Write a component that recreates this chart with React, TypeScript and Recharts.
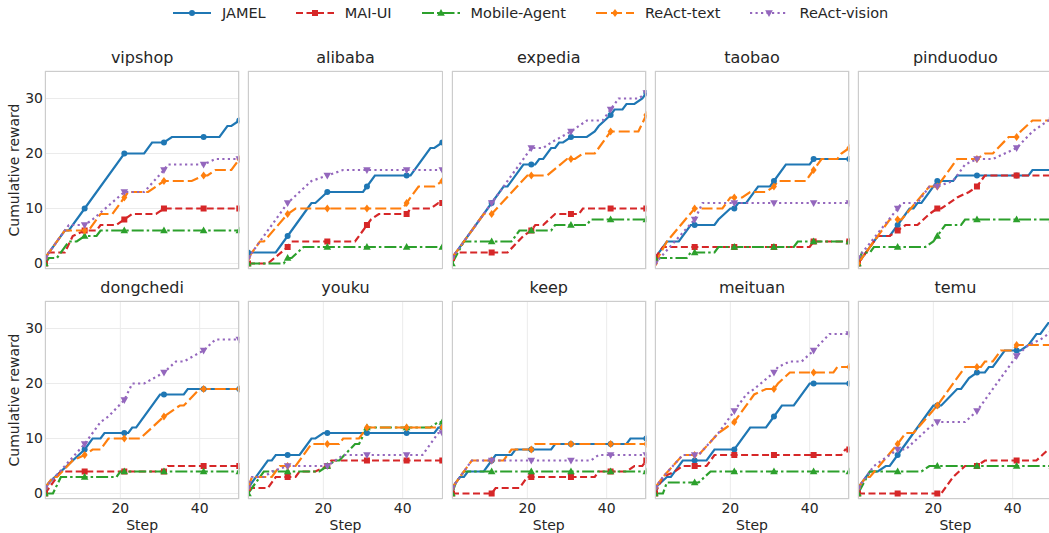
import React from 'react';
import { LineChart, Line, XAxis, YAxis, CartesianGrid } from 'recharts';

type Pts = [number, number][];

// ---------- labels ----------
const apps = ['vipshop', 'alibaba', 'expedia', 'taobao', 'pinduoduo', 'dongchedi', 'youku', 'keep', 'meituan', 'temu'];
const seriesNames = ['JAMEL', 'MAI-UI', 'Mobile-Agent', 'ReAct-text', 'ReAct-vision'];
const markerSteps = [1, 11, 21, 31, 41, 50];
const yTicks = [0, 10, 20, 30];
const xTicks = [20, 40];
const yDomain = [-1, 35];
const xDomain = [1, 50];

// ---------- data: [step, cumulative reward] vertices, order = seriesNames ----------
const vipshop: Pts[] = [
  [[1,1],[6,6],[7,6],[11,10],[21,20],[26,20],[28,22],[31,22],[33,23],[41,23],[45,23],[47,25],[48,25],[50,26]],
  [[1,0],[2,2],[6,2],[8,5],[11,6],[14,6],[15,7],[19,7],[21,8],[23,9],[29,9],[31,10],[41,10],[50,10]],
  [[1,0],[2,1],[4,1],[7,4],[9,4],[11,5],[14,5],[15,6],[21,6],[31,6],[41,6],[50,6]],
  [[1,1],[6,6],[11,6],[12,6],[15,9],[18,9],[21,12],[22,13],[27,13],[29,14],[31,15],[38,15],[41,16],[42,16],[44,17],[48,17],[50,19]],
  [[1,1],[6,6],[7,7],[11,7],[13,8],[21,13],[26,13],[31,17],[32,18],[41,18],[44,19],[50,19]],
];
const alibaba: Pts[] = [
  [[1,2],[8,2],[11,5],[16,10],[17,11],[18,11],[21,13],[30,13],[31,14],[33,16],[41,16],[42,16],[47,21],[48,21],[50,22]],
  [[1,0],[6,0],[11,3],[12,4],[21,4],[28,4],[31,7],[32,8],[34,9],[41,9],[42,10],[47,10],[49,11],[50,11]],
  [[1,0],[10,0],[11,1],[12,1],[15,3],[21,3],[31,3],[41,3],[50,3]],
  [[1,1],[4,4],[5,4],[11,9],[13,10],[21,10],[31,10],[40,10],[41,11],[44,14],[48,14],[50,15]],
  [[1,1],[4,4],[11,11],[17,15],[21,16],[25,17],[31,17],[41,17],[50,17]],
];
const expedia: Pts[] = [
  [[1,1],[11,11],[14,14],[15,14],[19,18],[21,18],[22,18],[23,19],[24,19],[26,21],[27,21],[28,22],[29,22],[31,23],[35,23],[37,24],[38,25],[41,27],[42,28],[44,28],[45,29],[47,29],[49,30],[50,31]],
  [[1,1],[2,2],[11,2],[15,2],[19,5],[21,6],[22,7],[24,7],[27,9],[31,9],[33,9],[34,10],[41,10],[50,10]],
  [[1,0],[4,4],[11,4],[16,4],[18,6],[21,6],[26,6],[27,7],[31,7],[35,7],[36,8],[41,8],[50,8]],
  [[1,1],[9,9],[11,9],[20,16],[21,16],[25,16],[30,19],[31,19],[32,19],[34,20],[37,20],[41,24],[48,24],[50,27]],
  [[1,1],[11,11],[15,15],[21,21],[24,21],[26,22],[31,24],[33,25],[35,26],[39,26],[41,28],[43,30],[48,30],[50,31]],
];
const taobao: Pts[] = [
  [[1,1],[4,4],[7,4],[10,7],[11,7],[16,7],[17,8],[20,10],[21,10],[22,11],[24,11],[27,14],[30,14],[31,15],[34,18],[40,18],[41,19],[50,19]],
  [[1,1],[3,3],[11,3],[21,3],[31,3],[40,3],[41,4],[50,4]],
  [[1,1],[9,1],[10,2],[11,2],[16,2],[17,3],[21,3],[31,3],[36,3],[37,4],[41,4],[50,4]],
  [[1,0],[4,4],[11,10],[18,10],[20,12],[21,12],[23,12],[25,13],[29,13],[31,14],[32,15],[39,15],[40,16],[41,17],[43,19],[47,19],[48,20],[50,21]],
  [[1,0],[11,8],[13,11],[21,11],[31,11],[41,11],[50,11]],
];
const pinduoduo: Pts[] = [
  [[1,0],[6,5],[9,5],[11,7],[14,10],[15,10],[16,11],[17,11],[21,15],[25,15],[26,16],[31,16],[41,16],[44,16],[45,17],[50,17]],
  [[1,0],[6,5],[9,5],[11,6],[13,7],[16,7],[19,9],[21,10],[22,10],[26,12],[29,13],[31,14],[33,16],[41,16],[50,16]],
  [[1,0],[2,2],[4,2],[5,3],[11,3],[18,3],[20,4],[21,5],[23,7],[27,7],[28,8],[31,8],[41,8],[50,8]],
  [[1,0],[9,8],[11,8],[12,8],[19,14],[21,14],[26,19],[31,19],[33,20],[35,20],[39,23],[41,23],[42,24],[45,26],[50,26]],
  [[1,1],[11,10],[12,11],[16,11],[19,14],[21,14],[25,15],[28,18],[31,19],[35,19],[38,20],[41,21],[45,24],[49,26],[50,26]],
];
const dongchedi: Pts[] = [
  [[1,1],[2,2],[11,8],[13,10],[15,10],[16,11],[21,11],[22,11],[23,12],[24,12],[30,18],[31,18],[36,18],[37,19],[41,19],[50,19]],
  [[1,0],[2,1],[5,4],[11,4],[21,4],[31,4],[32,5],[41,5],[50,5]],
  [[1,0],[3,0],[5,3],[11,3],[19,3],[20,4],[21,4],[31,4],[41,4],[50,4]],
  [[1,1],[3,3],[4,3],[8,6],[11,7],[13,8],[15,8],[17,10],[21,10],[25,10],[31,14],[35,16],[36,16],[40,19],[41,19],[50,19]],
  [[1,1],[11,9],[15,13],[17,14],[21,17],[23,20],[26,20],[31,22],[34,24],[36,24],[41,26],[44,28],[50,28]],
];
const youku: Pts[] = [
  [[1,1],[6,6],[7,6],[8,7],[11,7],[14,7],[15,8],[17,10],[18,10],[20,11],[21,11],[31,11],[41,11],[48,11],[49,12],[50,12]],
  [[1,1],[6,1],[8,3],[11,3],[13,3],[14,4],[18,4],[21,5],[22,6],[31,6],[41,6],[50,6]],
  [[1,0],[5,4],[11,4],[19,4],[21,5],[23,6],[24,6],[28,9],[29,9],[31,12],[41,12],[47,12],[49,13],[50,13]],
  [[1,1],[2,3],[7,3],[9,5],[11,5],[13,5],[17,9],[21,9],[24,9],[25,10],[29,10],[31,12],[41,12],[50,12]],
  [[1,1],[2,3],[5,3],[7,4],[11,5],[21,5],[23,6],[25,7],[31,7],[41,7],[45,7],[49,11],[50,11]],
];
const keep: Pts[] = [
  [[1,1],[3,3],[4,3],[5,4],[9,4],[11,6],[12,7],[16,7],[17,8],[21,8],[26,8],[27,9],[31,9],[41,9],[45,9],[46,10],[50,10]],
  [[1,0],[11,0],[12,1],[18,1],[20,3],[21,3],[31,3],[37,3],[38,4],[41,4],[45,4],[47,5],[49,5],[50,6]],
  [[1,0],[2,2],[4,4],[11,4],[21,4],[31,4],[41,4],[50,4]],
  [[1,1],[6,6],[11,6],[14,6],[16,8],[21,8],[22,9],[31,9],[41,9],[50,9]],
  [[1,1],[6,6],[11,6],[21,6],[31,6],[36,6],[38,7],[41,7],[50,7]],
];
const meituan: Pts[] = [
  [[1,1],[4,3],[5,3],[8,6],[11,6],[14,6],[16,8],[21,8],[25,12],[29,12],[31,14],[33,16],[36,16],[40,20],[41,20],[50,20]],
  [[1,0],[3,3],[6,4],[8,5],[11,5],[14,5],[16,7],[21,7],[31,7],[41,7],[48,7],[49,8],[50,8]],
  [[1,0],[3,0],[4,2],[11,2],[12,2],[15,4],[21,4],[31,4],[41,4],[50,4]],
  [[1,1],[3,3],[8,7],[11,7],[12,7],[17,11],[19,12],[21,13],[26,18],[29,19],[31,19],[32,20],[35,22],[41,22],[46,22],[47,23],[50,23]],
  [[1,1],[3,3],[8,7],[11,7],[12,7],[17,11],[21,15],[24,18],[26,19],[31,22],[32,23],[35,24],[38,24],[41,26],[45,29],[50,29]],
];
const temu: Pts[] = [
  [[1,1],[4,4],[6,4],[8,5],[9,5],[11,7],[19,15],[20,16],[21,16],[22,16],[26,19],[27,19],[29,21],[31,22],[33,22],[34,23],[35,23],[38,26],[41,26],[42,26],[44,27],[46,29],[47,29],[49,31],[50,31]],
  [[1,0],[11,0],[21,0],[22,0],[25,3],[28,5],[31,5],[33,6],[41,6],[46,6],[49,8],[50,8]],
  [[1,0],[4,4],[11,4],[17,4],[19,5],[21,5],[31,5],[41,5],[50,5]],
  [[1,1],[3,3],[4,3],[11,9],[13,11],[15,11],[21,16],[28,23],[31,23],[32,23],[33,24],[35,24],[37,26],[40,26],[41,27],[50,27]],
  [[1,1],[5,5],[9,7],[11,8],[13,8],[16,10],[19,12],[21,13],[28,13],[31,15],[41,25],[44,27],[47,28],[49,29],[50,30]],
];
const panels: Pts[][] = [vipshop, alibaba, expedia, taobao, pinduoduo, dongchedi, youku, keep, meituan, temu];

// ---------- styles ----------
const colors = ['#1f77b4', '#d62728', '#2ca02c', '#ff7f0e', '#9467bd'];
const dashes: (string | undefined)[] = [undefined, '7 3.5', '12 3 2.5 3', '11 4', '2.2 3.3'];
const shapes = ['circle', 'square', 'triangle', 'diamond', 'triangleDown'];
const FONT = '"DejaVu Sans", sans-serif';
const TEXT = '#262626';

// layout
const PLOT_LEFT0 = 45;
const PLOT_TOP0 = 71;
const COL_PITCH = 203.3;
const ROW_PITCH = 230;
const PLOT_W = 194.3;
const PLOT_H = 198;
const M_LEFT = 45;
const M_TOP = 10;
const M_RIGHT = 10;
const X_H = 30;

function Marker({ shape, cx, cy, color }: { shape: string; cx: number; cy: number; color: string }) {
  if (shape === 'circle') return <circle cx={cx} cy={cy} r={3} fill={color} />;
  if (shape === 'square') return <rect x={cx - 3} y={cy - 3} width={6} height={6} fill={color} />;
  if (shape === 'triangle')
    return <polygon points={`${cx},${cy - 4} ${cx - 3.8},${cy + 2.8} ${cx + 3.8},${cy + 2.8}`} fill={color} />;
  if (shape === 'diamond')
    return <polygon points={`${cx},${cy - 4} ${cx + 3},${cy} ${cx},${cy + 4} ${cx - 3},${cy}`} fill={color} />;
  return <polygon points={`${cx},${cy + 4} ${cx - 3.8},${cy - 2.8} ${cx + 3.8},${cy - 2.8}`} fill={color} />;
}

function makeDot(si: number) {
  return (p: any) => {
    const { cx, cy, payload, index } = p;
    if (!payload || !markerSteps.includes(payload.x) || cx == null || cy == null)
      return <g key={`d-${index}`} />;
    return (
      <g key={`d-${index}`}>
        <Marker shape={shapes[si]} cx={cx} cy={cy} color={colors[si]} />
      </g>
    );
  };
}

const yTick = (p: any) => (
  <text x={p.x} y={p.y} textAnchor="end" dominantBaseline="central" fontSize={14} fill={TEXT} fontFamily={FONT}>
    {p.payload.value}
  </text>
);
const xTick = (p: any) => (
  <text x={p.x} y={p.y} dy="0.71em" textAnchor="middle" fontSize={14} fill={TEXT} fontFamily={FONT}>
    {p.payload.value}
  </text>
);

function Panel({ idx }: { idx: number }) {
  const row = Math.floor(idx / 5);
  const col = idx % 5;
  const plotLeft = PLOT_LEFT0 + COL_PITCH * col;
  const plotTop = PLOT_TOP0 + ROW_PITCH * row;
  const series = panels[idx];
  return (
    <>
      <div style={{ position: 'absolute', left: plotLeft - M_LEFT, top: plotTop - M_TOP }}>
        <LineChart
          width={PLOT_W + M_LEFT + M_RIGHT}
          height={PLOT_H + M_TOP + X_H}
          margin={{ top: M_TOP, right: M_RIGHT, bottom: 0, left: 0 }}
        >
          <CartesianGrid stroke="#ebebeb" strokeWidth={1} />
          <XAxis
            type="number"
            dataKey="x"
            domain={xDomain}
            ticks={xTicks}
            interval={0}
            allowDataOverflow
            height={X_H}
            axisLine={false}
            tickLine={false}
            tickSize={0}
            tickMargin={4}
            tick={row === 1 ? xTick : false}
          />
          <YAxis
            type="number"
            domain={yDomain}
            ticks={yTicks}
            interval={0}
            allowDataOverflow
            width={M_LEFT}
            axisLine={false}
            tickLine={false}
            tickSize={0}
            tickMargin={2}
            tick={col === 0 ? yTick : false}
          />
          {series.map((pts, si) => (
            <Line
              key={seriesNames[si]}
              name={seriesNames[si]}
              data={pts.map(([x, y]) => ({ x, y }))}
              dataKey="y"
              type="linear"
              stroke={colors[si]}
              strokeWidth={2.2}
              strokeDasharray={dashes[si]}
              dot={makeDot(si)}
              activeDot={false}
              isAnimationActive={false}
            />
          ))}
        </LineChart>
      </div>
      <div
        style={{
          position: 'absolute',
          left: plotLeft,
          top: plotTop,
          width: PLOT_W,
          height: PLOT_H,
          border: '1px solid #cccccc',
          boxSizing: 'border-box',
          pointerEvents: 'none',
        }}
      />
    </>
  );
}

function LegendIcon({ si }: { si: number }) {
  return (
    <svg width={38} height={14} style={{ display: 'block' }}>
      <line x1={0} x2={38} y1={7} y2={7} stroke={colors[si]} strokeWidth={2.2} strokeDasharray={dashes[si]} />
      <Marker shape={shapes[si]} cx={19} cy={7} color={colors[si]} />
    </svg>
  );
}

export default function App() {
  return (
    <div
      style={{
        position: 'fixed',
        left: 0,
        top: 0,
        width: 1049,
        height: 533,
        overflow: 'hidden',
        background: '#ffffff',
        fontFamily: FONT,
      }}
    >
      {apps.map((_, i) => (
        <Panel key={i} idx={i} />
      ))}
      <svg width={1049} height={533} style={{ position: 'absolute', left: 0, top: 0, pointerEvents: 'none' }}>
        {apps.map((name, i) => {
          const row = Math.floor(i / 5);
          const col = i % 5;
          const cx = PLOT_LEFT0 + COL_PITCH * col + PLOT_W / 2;
          const top = PLOT_TOP0 + ROW_PITCH * row;
          return (
            <text key={name} x={cx} y={top - 8.5} textAnchor="middle" fontSize={16} fill={TEXT} fontFamily={FONT}>
              {name}
            </text>
          );
        })}
        {[0, 1].map((row) => {
          const cy = PLOT_TOP0 + ROW_PITCH * row + PLOT_H / 2;
          return (
            <text
              key={`yl-${row}`}
              x={19}
              y={cy}
              transform={`rotate(-90 19 ${cy})`}
              textAnchor="middle"
              fontSize={14}
              fill={TEXT}
              fontFamily={FONT}
            >
              Cumulative reward
            </text>
          );
        })}
        {[0, 1, 2, 3, 4].map((col) => {
          const cx = PLOT_LEFT0 + COL_PITCH * col + PLOT_W / 2;
          return (
            <text
              key={`xl-${col}`}
              x={cx}
              y={PLOT_TOP0 + ROW_PITCH + PLOT_H + 31}
              textAnchor="middle"
              fontSize={14}
              fill={TEXT}
              fontFamily={FONT}
            >
              Step
            </text>
          );
        })}
      </svg>
      <div
        style={{
          position: 'absolute',
          left: 173,
          top: 0,
          height: 26,
          display: 'flex',
          alignItems: 'center',
          fontSize: 14.5,
          color: TEXT,
          whiteSpace: 'nowrap',
        }}
      >
        {seriesNames.map((n, si) => (
          <div key={n} style={{ display: 'flex', alignItems: 'center', marginRight: 30 }}>
            <LegendIcon si={si} />
            <span style={{ marginLeft: 11, lineHeight: '16px' }}>{n}</span>
          </div>
        ))}
      </div>
    </div>
  );
}
